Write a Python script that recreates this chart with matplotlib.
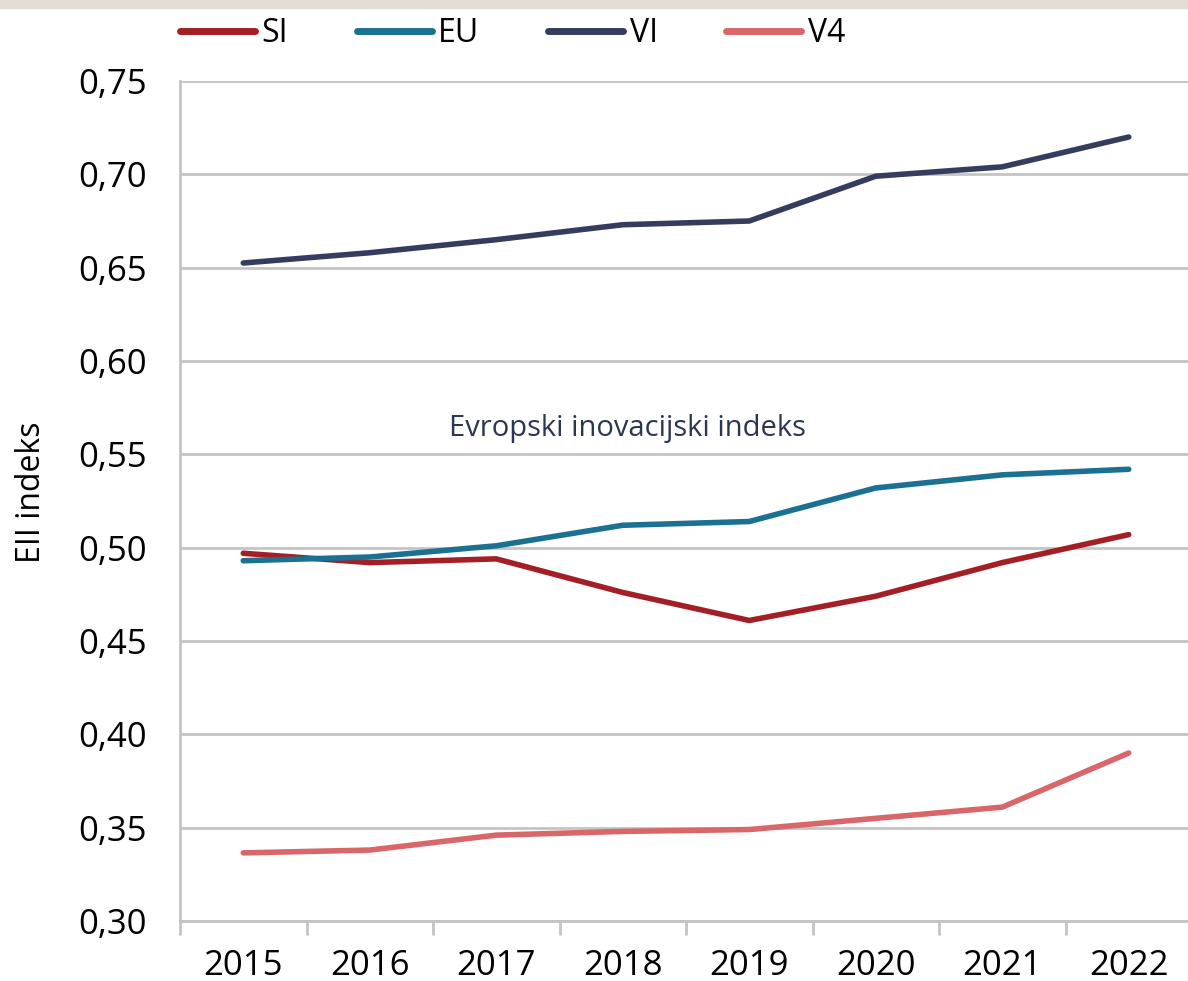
import numpy as np
import matplotlib.pyplot as plt
from matplotlib.patches import Rectangle
from matplotlib.ticker import FixedLocator, FuncFormatter

plt.rcParams['font.family'] = ['Open Sans', 'DejaVu Sans']

# podatki
leta = ['2015', '2016', '2017', '2018', '2019', '2020', '2021', '2022']
si = [0.497, 0.492, 0.494, 0.476, 0.461, 0.474, 0.492, 0.507]
eu = [0.493, 0.495, 0.501, 0.512, 0.514, 0.532, 0.539, 0.542]
vi = [0.6525, 0.658, 0.665, 0.673, 0.675, 0.699, 0.704, 0.720]
v4 = [0.3365, 0.338, 0.346, 0.348, 0.349, 0.355, 0.361, 0.390]

barve = {'SI': '#a41f25', 'EU': '#1b7191', 'VI': '#343d5e', 'V4': '#d9676a'}

fig = plt.figure(figsize=(11.88, 9.81), dpi=100)
# bež pas na vrhu
fig.patches.append(Rectangle((0, 1 - 8 / 981), 1, 8 / 981, transform=fig.transFigure,
                             color='#e2ddd5', zorder=0))

ax = fig.add_axes((180 / 1188, 60 / 981, 1012 / 1188, 840 / 981))
x = np.arange(len(leta))
for ime, vr in [('SI', si), ('EU', eu), ('VI', vi), ('V4', v4)]:
    ax.plot(x, vr, color=barve[ime], lw=4, label=ime, solid_capstyle='round', zorder=3)

ax.set_xlim(-0.5, 7.5)
ax.set_ylim(0.30, 0.75)
ax.set_yticks(np.arange(0.30, 0.751, 0.05))
ax.yaxis.set_major_formatter(FuncFormatter(lambda v, p: f'{v:.2f}'.replace('.', ',')))
ax.xaxis.set_major_locator(FixedLocator(np.arange(-0.5, 7.6, 1)))
ax.set_xticklabels([])
ax.set_xticks(x, minor=True)
ax.set_xticklabels(leta, minor=True)
ax.tick_params(axis='x', which='major', length=10, width=2, color='#c4c4c4', direction='out')
ax.tick_params(axis='x', which='minor', length=0, labelsize=25, pad=20)
ax.tick_params(axis='y', length=0, labelsize=25, pad=24)
ax.grid(axis='y', color='#c4c4c4', lw=2)
ax.set_axisbelow(True)
for s in ['top', 'right']:
    ax.spines[s].set_visible(False)
for s in ['left', 'bottom']:
    ax.spines[s].set_color('#c4c4c4')
    ax.spines[s].set_linewidth(2)

ax.set_ylabel('EII indeks', fontsize=23)
ax.yaxis.set_label_coords(-0.13, 0.51)
ax.text(3.04, 0.564, 'Evropski inovacijski indeks', fontsize=21, color='#2b3650',
        ha='center', va='center')

leg = fig.legend(loc='center left', bbox_to_anchor=(180 / 1188, 1 - 34 / 981), ncol=4,
                 frameon=False, fontsize=23, handlelength=2.35, columnspacing=2.15,
                 handletextpad=0.2, borderpad=0, borderaxespad=0)
for h in leg.get_lines():
    h.set_linewidth(5)
    h.set_solid_capstyle('round')

fig.savefig('out.png', dpi=100)
